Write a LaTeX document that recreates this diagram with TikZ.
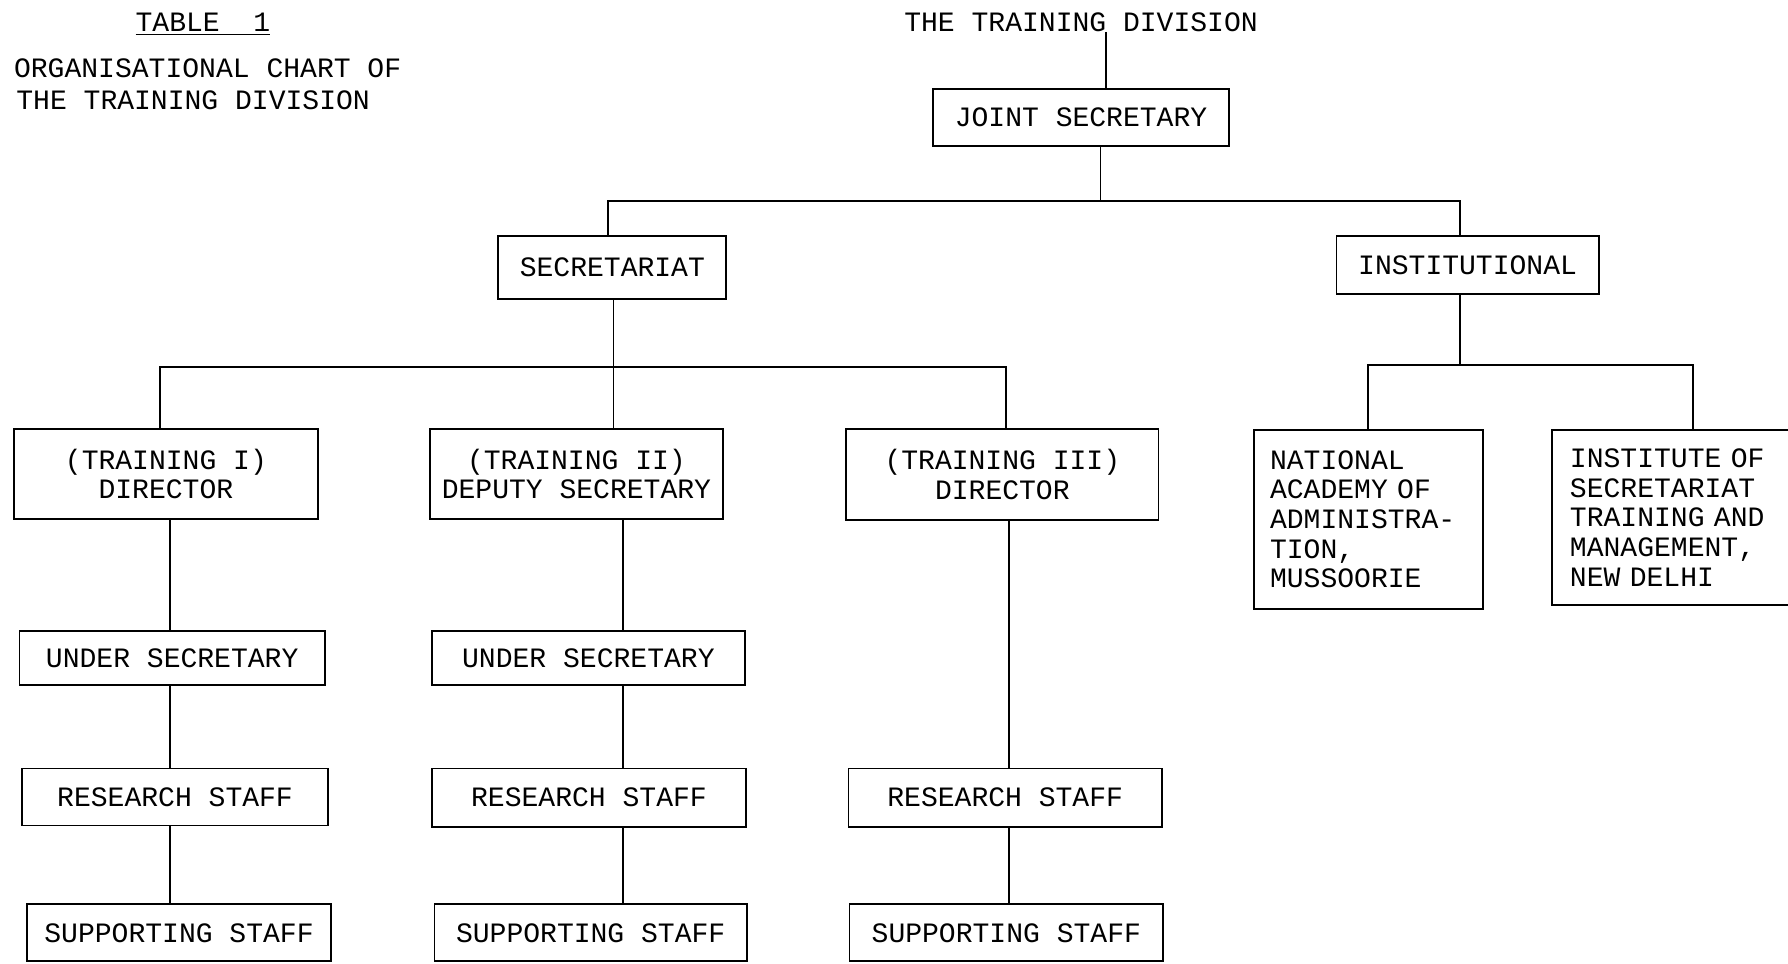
\documentclass[tikz,border=0pt]{standalone}
\usepackage{fontspec}
\setmainfont{Liberation Mono}
\begin{document}
\begin{tikzpicture}[x=0.02cm,y=-0.02cm,
  box/.style={draw,line width=0.9pt,inner sep=0pt,align=center,font=\fontsize{14}{14.8}\selectfont},
  mbox/.style={box,anchor=north west,align=left},
  txt/.style={inner sep=0pt,font=\fontsize{14}{15}\selectfont},
  conn/.style={line width=0.9pt}]
\useasboundingbox (0,0) rectangle (1568,845);
% titles
\node[txt,anchor=base] (tab) at (178,28) {\underline{TABLE\ \ 1}};
\node[txt,anchor=base west] (org1) at (12,68) {ORGANISATIONAL CHART OF};
\node[txt,anchor=base west] (org2) at (14,96) {THE TRAINING DIVISION};
\node[txt,anchor=base] (top) at (948,28) {THE TRAINING DIVISION};
% boxes
\node[box,minimum width=5.2cm,minimum height=1.0cm] (JS) at (948,103) {JOINT SECRETARY};
\node[box,minimum width=4.0cm,minimum height=1.1cm] (SEC) at (537,234.5) {SECRETARIAT};
\node[box,minimum width=4.6cm,minimum height=1.02cm] (INST) at (1287,232.5) {INSTITUTIONAL};
\node[box,minimum width=5.34cm,minimum height=1.58cm] (T1) at (145.5,415.5) {(TRAINING I)\\DIRECTOR};
\node[box,minimum width=5.14cm,minimum height=1.58cm] (T2) at (505.5,415.5) {(TRAINING II)\\DEPUTY SECRETARY};
\node[box,minimum width=5.48cm,minimum height=1.6cm] (T3) at (879,416) {(TRAINING III)\\DIRECTOR};
\node[mbox,inner xsep=0.28cm,text width=3.46cm,minimum height=3.14cm] (NA) at (1099,376)
  {NATIONAL\\ACADEMY OF\\ADMINISTRA-\\TION,\\MUSSOORIE};
\node[mbox,inner xsep=0.32cm,text width=4.28cm,minimum height=3.08cm] (IST) at (1360,376)
  {INSTITUTE OF\\SECRETARIAT\\TRAINING AND\\MANAGEMENT,\\NEW DELHI};
\node[box,minimum width=5.36cm,minimum height=0.96cm] (US1) at (151,577) {UNDER SECRETARY};
\node[box,minimum width=5.48cm,minimum height=0.96cm] (US2) at (516,577) {UNDER SECRETARY};
\node[box,minimum width=5.38cm,minimum height=1.0cm] (RS1) at (153.5,699) {RESEARCH STAFF};
\node[box,minimum width=5.5cm,minimum height=1.02cm] (RS2) at (516.5,699.5) {RESEARCH STAFF};
\node[box,minimum width=5.5cm,minimum height=1.02cm] (RS3) at (881.5,699.5) {RESEARCH STAFF};
\node[box,minimum width=5.32cm,minimum height=1.0cm] (SS1) at (157,818) {SUPPORTING STAFF};
\node[box,minimum width=5.48cm,minimum height=1.0cm] (SS2) at (518,818) {SUPPORTING STAFF};
\node[box,minimum width=5.5cm,minimum height=1.0cm] (SS3) at (882.5,818) {SUPPORTING STAFF};
% connectors
\coordinate (t0) at (970,28);
\draw[conn] (t0) -- (t0 |- JS.north);
\coordinate (j0) at (965,176);
\coordinate (jL) at (533,176);
\coordinate (jR) at (1280,176);
\draw[conn] (JS.south -| j0) -- (j0);
\draw[conn] (jL |- SEC.north) -- (jL) -- (jR) -- (jR |- INST.north);
\coordinate (s0) at (538,322);
\coordinate (sL) at (140,322);
\coordinate (sR) at (882,322);
\draw[conn] (SEC.south -| s0) -- (s0);
\draw[conn] (sL |- T1.north) -- (sL) -- (sR) -- (sR |- T3.north);
\draw[conn] (s0) -- (s0 |- T2.north);
\coordinate (i0) at (1280,320);
\coordinate (iL) at (1200,320);
\coordinate (iR) at (1485,320);
\draw[conn] (INST.south -| i0) -- (i0);
\draw[conn] (iL |- NA.north) -- (iL) -- (iR) -- (iR |- IST.north);
\coordinate (c1) at (149,0);
\coordinate (c2) at (546,0);
\coordinate (c3) at (885,0);
\draw[conn] (T1.south -| c1) -- (US1.north -| c1);
\draw[conn] (US1.south -| c1) -- (RS1.north -| c1);
\draw[conn] (RS1.south -| c1) -- (SS1.north -| c1);
\draw[conn] (T2.south -| c2) -- (US2.north -| c2);
\draw[conn] (US2.south -| c2) -- (RS2.north -| c2);
\draw[conn] (RS2.south -| c2) -- (SS2.north -| c2);
\draw[conn] (T3.south -| c3) -- (RS3.north -| c3);
\draw[conn] (RS3.south -| c3) -- (SS3.north -| c3);
\end{tikzpicture}
\end{document}
